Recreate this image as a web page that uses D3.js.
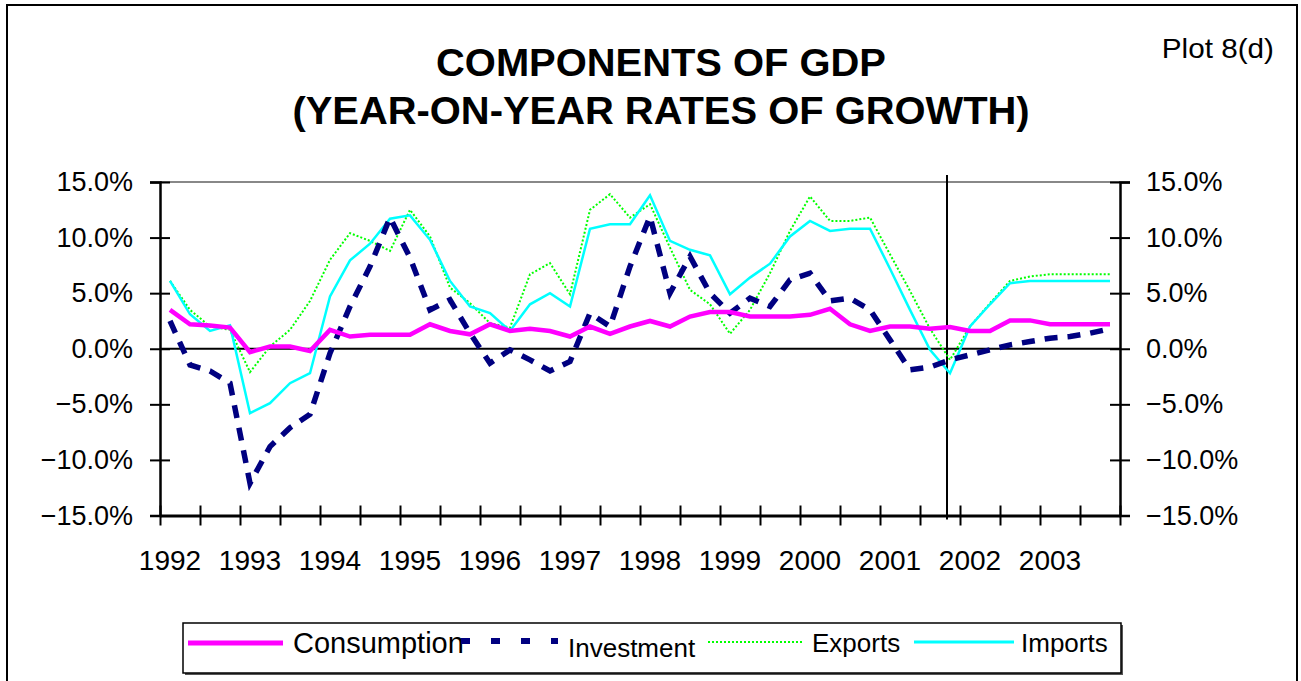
<!DOCTYPE html>
<html>
<head>
<meta charset="utf-8">
<script src="https://cdn.jsdelivr.net/npm/d3@7"></script>
<style>
  body { margin: 0; background: #fff; }
  text { font-family: "Liberation Sans", Arial, sans-serif; fill: #000; }
</style>
</head>
<body>
<script>
const width = 1301;
const height = 681;

// quarterly data, 1992 Q1 .. 2003 Q4 (year-on-year %)
const years = ['1992', '1993', '1994', '1995', '1996', '1997', '1998', '1999', '2000', '2001', '2002', '2003'];
const consumption = [3.5, 2.2, 2.1, 1.9, -0.3, 0.2, 0.2, -0.2, 1.7, 1.1, 1.25, 1.25, 1.25, 2.2, 1.6, 1.3,
  2.2, 1.6, 1.8, 1.6, 1.1, 2.0, 1.35, 2.0, 2.5, 2.0, 2.9, 3.3, 3.3, 2.9, 2.9, 2.9,
  3.05, 3.6, 2.2, 1.6, 2.0, 2.0, 1.8, 1.95, 1.6, 1.6, 2.55, 2.55, 2.2, 2.2, 2.2, 2.2];
const investment = [2.5, -1.45, -2.0, -3.1, -12.1, -8.8, -7.1, -5.9, -0.4, 3.8, 7.4, 11.8, 8.2, 3.5, 4.4, 1.4,
  -1.3, -0.1, -1.0, -2.0, -1.15, 3.2, 2.0, 7.4, 11.9, 5.0, 8.3, 5.0, 3.2, 4.55, 3.8, 6.2,
  6.8, 4.3, 4.55, 3.5, 0.8, -1.9, -1.65, -1.0, -0.55, -0.1, 0.35, 0.65, 0.95, 1.1, 1.4, 1.8];
const exportsGrowth = [6.1, 3.5, 2.0, 1.7, -2.1, 0.2, 1.7, 4.3, 8.0, 10.4, 9.7, 8.8, 12.5, 10.1, 5.5, 4.1,
  2.3, 1.9, 6.7, 7.7, 4.9, 12.5, 13.9, 11.8, 13.0, 9.1, 5.3, 4.0, 1.35, 3.5, 6.8, 10.6,
  13.7, 11.5, 11.5, 11.8, 8.5, 5.2, 1.8, -1.0, 2.0, 4.1, 6.1, 6.5, 6.7, 6.7, 6.7, 6.7];
const importsGrowth = [6.1, 3.1, 1.6, 2.1, -5.8, -4.9, -3.1, -2.2, 4.7, 7.95, 9.45, 11.7, 12.0, 9.8, 6.1, 3.8,
  3.2, 1.6, 4.0, 5.0, 3.8, 10.8, 11.2, 11.2, 13.8, 9.7, 8.9, 8.4, 4.9, 6.4, 7.65, 10.1,
  11.5, 10.6, 10.8, 10.8, 7.2, 3.5, -0.1, -2.2, 2.0, 4.0, 5.9, 6.1, 6.1, 6.1, 6.1, 6.1];
const yTicks = [-15, -10, -5, 0, 5, 10, 15];
const forecastStart = 38.85; // vertical marker, in quarter index units

const series = [
  {name: 'Consumption', values: consumption, color: '#ff00ff', w: 4.5, dash: null},
  {name: 'Investment', values: investment, color: '#000080', w: 5.5, dash: '13,10'},
  {name: 'Exports', values: exportsGrowth, color: '#00ff00', w: 2, dash: '2,2'},
  {name: 'Imports', values: importsGrowth, color: '#00ffff', w: 2.5, dash: null}
];

const svg = d3.select('body').append('svg')
  .attr('width', width)
  .attr('height', height);

svg.append('rect').attr('width', width).attr('height', height).attr('fill', '#fff');

// outer chart border
svg.append('rect')
  .attr('x', 7).attr('y', 5).attr('width', 1290).attr('height', 700)
  .attr('fill', 'none').attr('stroke', '#000').attr('stroke-width', 2);

const x = d3.scaleLinear().domain([-0.5, consumption.length - 0.5]).range([160, 1120]);
const y = d3.scaleLinear().domain([-15, 15]).range([515.5, 182]);

// title
const title = svg.append('g')
  .attr('transform', 'translate(661,76) scale(1.05,1)')
  .attr('text-anchor', 'middle')
  .style('font-weight', 'bold')
  .style('font-size', '38px');
title.append('text').attr('y', 0).text('COMPONENTS OF GDP');
title.append('text').attr('y', 48).text('(YEAR-ON-YEAR RATES OF GROWTH)');

svg.append('g')
  .attr('transform', 'translate(1274,58) scale(1.1,1)')
  .append('text')
  .attr('text-anchor', 'end')
  .style('font-size', '27px')
  .text('Plot 8(d)');

// top grey line
svg.append('line')
  .attr('x1', x.range()[0]).attr('x2', x.range()[1])
  .attr('y1', y(15)).attr('y2', y(15))
  .attr('stroke', '#888').attr('stroke-width', 2);

const pct = d => d3.format('.1f')(d) + '%';

const leftAxis = svg.append('g')
  .attr('transform', `translate(${x.range()[0]},0)`)
  .call(d3.axisLeft(y).tickValues(yTicks).tickFormat(pct).tickSize(10).tickPadding(17));
const rightAxis = svg.append('g')
  .attr('transform', `translate(${x.range()[1]},0)`)
  .call(d3.axisRight(y).tickValues(yTicks).tickFormat(pct).tickSize(10).tickPadding(16));

[leftAxis, rightAxis].forEach(ax => {
  ax.select('.domain').attr('stroke', '#000').attr('stroke-width', 2.5);
  ax.selectAll('.tick line').attr('stroke', '#000').attr('stroke-width', 2)
    .attr('x1', -10).attr('x2', 10);
  ax.selectAll('.tick text')
    .style('font-size', '27px')
    .style('font-family', '"Liberation Sans", Arial, sans-serif');
});

// zero line
svg.append('line')
  .attr('x1', x.range()[0]).attr('x2', x.range()[1])
  .attr('y1', y(0)).attr('y2', y(0))
  .attr('stroke', '#000').attr('stroke-width', 2);

// bottom axis: a tick every two quarters, a label every year
const tickIdx = d3.range(-0.5, consumption.length, 2);
const bottomAxis = svg.append('g')
  .attr('transform', `translate(0,${y(-15)})`)
  .call(d3.axisBottom(x).tickValues(tickIdx).tickFormat('').tickSize(10).tickSizeOuter(0));
bottomAxis.select('.domain').attr('stroke', '#000').attr('stroke-width', 3);
bottomAxis.selectAll('.tick line').attr('stroke', '#000').attr('stroke-width', 2)
  .attr('y1', -10).attr('y2', 10);

svg.append('g')
  .attr('text-anchor', 'middle')
  .style('font-size', '28px')
  .selectAll('text')
  .data(years)
  .enter().append('text')
    .attr('x', (d, i) => x(i * 4))
    .attr('y', 570)
    .text(d => d);

// forecast marker
svg.append('line')
  .attr('x1', x(forecastStart)).attr('x2', x(forecastStart))
  .attr('y1', y(15) - 7).attr('y2', y(-15) + 4)
  .attr('stroke', '#000').attr('stroke-width', 2);

// series
const line = d3.line()
  .x((d, i) => x(i))
  .y(d => y(d));

svg.append('g')
  .selectAll('path')
  .data([series[2], series[3], series[1], series[0]])
  .enter().append('path')
    .attr('d', d => line(d.values))
    .attr('fill', 'none')
    .attr('stroke', d => d.color)
    .attr('stroke-width', d => d.w)
    .attr('stroke-dasharray', d => d.dash)
    .attr('stroke-linejoin', 'miter');

// legend
const legend = svg.append('g');
legend.append('rect')
  .attr('x', 185).attr('y', 625).attr('width', 938).attr('height', 50)
  .attr('fill', '#555');
legend.append('rect')
  .attr('x', 183).attr('y', 623).attr('width', 938).attr('height', 50)
  .attr('fill', '#fff').attr('stroke', '#000').attr('stroke-width', 1.5);

const legendKeys = [
  {x1: 188, x2: 283, ly: 643, tx: 293, ty: 653, size: 29, dash: null, w: 5},
  {x1: 461, x2: 558, ly: 641, tx: 568, ty: 657, size: 26, dash: '9,21', w: 6},
  {x1: 708, x2: 802, ly: 642, tx: 812, ty: 652, size: 26, dash: '2,2', w: 2},
  {x1: 914, x2: 1014, ly: 642, tx: 1021, ty: 652, size: 26, dash: null, w: 3}
];

series.forEach((s, i) => {
  const k = legendKeys[i];
  legend.append('line')
    .attr('x1', k.x1).attr('x2', k.x2).attr('y1', k.ly).attr('y2', k.ly)
    .attr('stroke', s.color).attr('stroke-width', k.w)
    .attr('stroke-dasharray', k.dash);
  legend.append('text')
    .attr('x', k.tx).attr('y', k.ty)
    .style('font-size', k.size + 'px')
    .text(s.name);
});
</script>
</body>
</html>
